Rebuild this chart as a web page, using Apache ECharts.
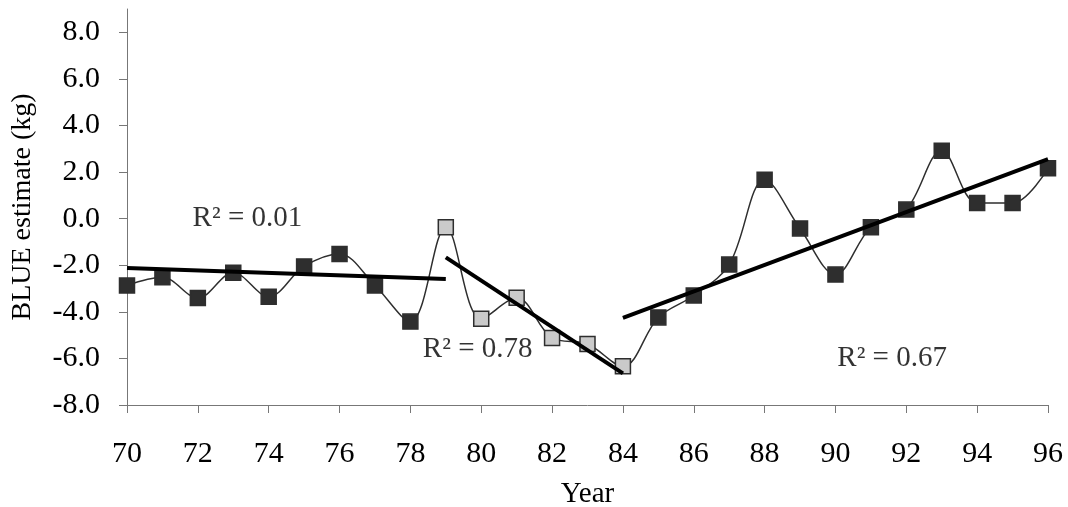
<!DOCTYPE html>
<html>
<head>
<meta charset="utf-8">
<script src="https://cdn.jsdelivr.net/npm/echarts@6/dist/echarts.min.js"></script>
<style>
  html, body { margin: 0; padding: 0; background: #fff; }
  #chart { width: 1068px; height: 507px; }
</style>
</head>
<body>
<div id="chart"></div>
<script>
const years = [70, 71, 72, 73, 74, 75, 76, 77, 78, 79, 80, 81, 82, 83, 84, 85, 86, 87, 88, 89, 90, 91, 92, 93, 94, 95, 96];
const blue = [-2.87, -2.52, -3.41, -2.32, -3.35, -2.05, -1.52, -2.87, -4.42, -0.37, -4.3, -3.4, -5.12, -5.38, -6.34,
  -4.24, -3.3, -1.97, 1.67, -0.42, -2.4, -0.37, 0.39, 2.92, 0.67, 0.67, 2.16];
const grayYears = [79, 80, 81, 82, 83, 84];

// trend line end points
const trendX = [[70, 79], [79, 84], [84, 96]];
const trendY = [[-2.12, -2.59], [-1.66, -6.64], [-4.26, 2.56]];

const r2Text = ["R² = 0.01", "R² = 0.78", "R² = 0.67"];
const r2X = [73.4, 79.9, 91.6];
const r2Y = [0.0, -5.6, -6.0];

const yTicks = [-8, -6, -4, -2, 0, 2, 4, 6, 8];

const font = "'Liberation Serif', 'Times New Roman', serif";
const dark = "#2e2e2e";
const txt = "#000";

const chart = echarts.init(document.getElementById("chart"), null, { renderer: "canvas" });

const pointData = years.map((yr, i) => {
  const gray = grayYears.indexOf(yr) >= 0;
  return {
    value: [yr, blue[i]],
    itemStyle: { color: gray ? "#cacaca" : dark, borderColor: dark, borderWidth: 1.5 },
  };
});

const trendSeries = trendX.map((xs, k) => ({
  type: "line",
  data: xs.map((x, j) => [x, trendY[k][j]]),
  symbol: "none",
  lineStyle: { color: "#000", width: 4 },
  z: 5,
  silent: true,
}));

chart.setOption({
  animation: false,
  backgroundColor: "#fff",
  grid: { left: 127, right: 20, top: 9, bottom: 102, containLabel: false, outerBoundsMode: "none" },
  xAxis: {
    type: "value",
    min: 70,
    max: 96,
    interval: 2,
    name: "Year",
    nameLocation: "middle",
    nameGap: 75,
    nameTextStyle: { fontFamily: font, fontSize: 29, color: txt },
    axisLine: { onZero: false, lineStyle: { color: "#777", width: 1 } },
    axisTick: { show: true, length: 8, lineStyle: { color: "#777" } },
    axisLabel: { fontFamily: font, fontSize: 30, color: txt, margin: 34 },
    splitLine: { show: false },
  },
  yAxis: {
    type: "value",
    min: -8,
    max: 9,
    name: "BLUE estimate (kg)",
    nameLocation: "middle",
    nameGap: 90,
    nameTextStyle: { fontFamily: font, fontSize: 28, color: txt },
    axisLine: { show: true, onZero: false, lineStyle: { color: "#777", width: 1 } },
    axisTick: { show: true, length: 8, customValues: yTicks, lineStyle: { color: "#777" } },
    axisLabel: {
      fontFamily: font, fontSize: 30, color: txt, margin: 27,
      customValues: yTicks,
      formatter: (v) => v.toFixed(1),
    },
    splitLine: { show: false },
  },
  series: [
    {
      type: "line",
      data: pointData,
      smooth: 0.35,
      symbol: "rect",
      symbolSize: 15,
      lineStyle: { color: dark, width: 1.5 },
      z: 3,
    },
    ...trendSeries,
    {
      type: "scatter",
      data: r2Text.map((t, i) => ({ name: t, value: [r2X[i], r2Y[i]] })),
      symbolSize: 0,
      label: {
        show: true,
        position: "inside",
        formatter: "{b}",
        fontFamily: font,
        fontSize: 29,
        color: txt,
      },
      z: 6,
      silent: true,
    },
  ],
});
</script>
</body>
</html>
